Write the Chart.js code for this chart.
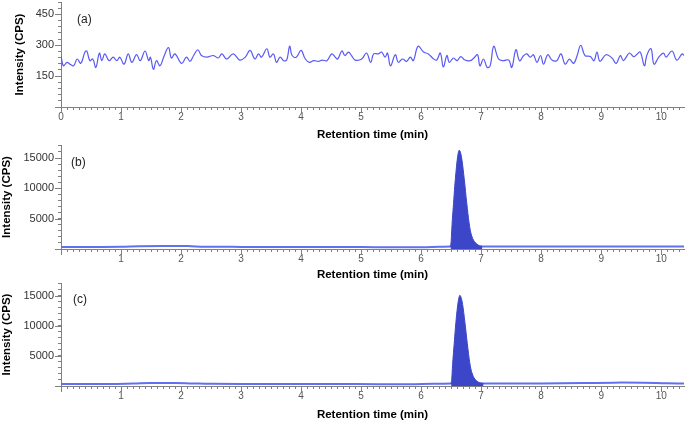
<!DOCTYPE html>
<html>
<head>
<meta charset="utf-8">
<script src="https://cdn.jsdelivr.net/npm/chart.js@4.4.1/dist/chart.umd.min.js"></script>
<style>
  body { margin: 0; background: #fff; }
  canvas { position: absolute; left: 0; }
</style>
</head>
<body>
<canvas id="chA" width="685" height="142" style="top:0px"></canvas>
<canvas id="chB" width="685" height="139" style="top:143px"></canvas>
<canvas id="chC" width="685" height="141" style="top:281px"></canvas>
<script>
// (a) blank noise trace
var timesA = [0.00, 0.04, 0.10, 0.15, 0.21, 0.27, 0.33, 0.40, 0.43, 0.48, 0.53, 0.58, 0.64, 0.68, 0.73, 0.80, 0.87, 0.93, 0.98,
  1.05, 1.12, 1.18, 1.26, 1.32, 1.40, 1.46, 1.49, 1.54, 1.59, 1.65, 1.71, 1.79, 1.84, 1.90, 2.01, 2.09, 2.15, 2.21, 2.28,
  2.34, 2.43, 2.54, 2.62, 2.68, 2.76, 2.87, 2.98, 3.07, 3.15, 3.23, 3.29, 3.34, 3.43, 3.48, 3.54, 3.59, 3.65, 3.71, 3.76,
  3.81, 3.85, 3.92, 4.00, 4.07, 4.14, 4.21, 4.29, 4.35, 4.43, 4.51, 4.57, 4.61, 4.68, 4.73, 4.79, 4.84, 4.90, 5.01, 5.09,
  5.16, 5.21, 5.29, 5.34, 5.40, 5.44, 5.49, 5.57, 5.62, 5.69, 5.76, 5.82, 5.87, 5.95, 6.04, 6.12, 6.21, 6.26, 6.32, 6.37,
  6.43, 6.47, 6.54, 6.60, 6.66, 6.73, 6.82, 6.88, 6.94, 6.98, 7.04, 7.10, 7.15, 7.21, 7.29, 7.37, 7.46, 7.51, 7.58, 7.64,
  7.71, 7.76, 7.82, 7.87, 7.93, 7.99, 8.04, 8.11, 8.18, 8.26, 8.33, 8.40, 8.47, 8.54, 8.60, 8.66, 8.73, 8.82, 8.88, 8.93,
  8.98, 9.08, 9.18, 9.25, 9.32, 9.37, 9.47, 9.54, 9.59, 9.65, 9.72, 9.76, 9.83, 9.88, 9.96, 10.04, 10.08, 10.18, 10.26,
  10.35, 10.38];
var intensA = [250, 200, 217, 208, 200, 233, 212, 267, 272, 225, 233, 192, 262, 225, 258, 225, 242, 225, 242,
  208, 258, 217, 254, 225, 272, 225, 242, 183, 225, 200, 242, 288, 238, 258, 212, 242, 222, 250, 278,
  250, 242, 250, 238, 258, 233, 258, 228, 242, 275, 233, 258, 242, 283, 242, 258, 217, 242, 225, 228,
  295, 250, 242, 275, 233, 217, 225, 222, 228, 225, 258, 242, 233, 272, 250, 267, 250, 228, 233, 262,
  217, 258, 258, 267, 242, 262, 200, 254, 217, 233, 222, 242, 225, 295, 267, 258, 233, 228, 262, 195,
  250, 217, 238, 225, 245, 228, 225, 238, 254, 200, 233, 192, 200, 295, 233, 225, 228, 192, 278, 225,
  250, 258, 242, 254, 217, 250, 208, 254, 228, 225, 258, 208, 233, 212, 250, 300, 250, 245, 225, 267,
  222, 254, 238, 212, 250, 225, 262, 245, 254, 267, 200, 250, 283, 208, 242, 262, 242, 272, 228,
  258, 250];

// (b) baseline and peak
var timesB = [0, 0.6, 1.0, 1.3, 1.7, 2.1, 2.4, 3.0, 4.0, 5.0, 5.5, 6.0, 6.3, 6.5, 6.7, 7.05, 8, 9, 10, 10.38];
var baseB = [330, 330, 360, 460, 500, 480, 380, 350, 350, 330, 280, 290, 360, 400, 400, 430, 420, 420, 420, 420];
var peakTimesB = [6.49, 6.50, 6.51, 6.52, 6.54, 6.56, 6.58, 6.60, 6.62, 6.635, 6.65, 6.67, 6.69, 6.71, 6.73, 6.75,
  6.77, 6.79, 6.81, 6.83, 6.86, 6.89, 6.93, 6.97, 7.02];
var peakB = [400, 1200, 3000, 4800, 7500, 10300, 12600, 14600, 15900, 16300, 16100, 15300, 14000, 12300, 10500, 8500,
  6700, 5000, 3600, 2600, 1700, 1200, 800, 550, 420];

// (c) baseline and peak
var timesC = [0, 0.8, 1.2, 1.5, 1.9, 2.2, 2.5, 3.5, 4.5, 5.3, 5.8, 6.2, 6.5, 6.7, 7.1, 8.0, 8.7, 9.2, 9.7, 10.1, 10.38];
var baseC = [330, 340, 420, 500, 500, 420, 360, 350, 340, 300, 290, 380, 400, 420, 420, 420, 480, 560, 540, 440, 420];
var peakTimesC = [6.50, 6.51, 6.52, 6.53, 6.55, 6.57, 6.59, 6.61, 6.63, 6.645, 6.66, 6.68, 6.70, 6.72, 6.74, 6.76,
  6.78, 6.80, 6.82, 6.84, 6.87, 6.90, 6.94, 6.98, 7.04];
var peakC = [400, 1100, 2800, 4400, 6900, 9500, 11700, 13500, 14700, 15100, 14900, 14200, 13000, 11400, 9700, 7900,
  6200, 4600, 3300, 2400, 1600, 1100, 750, 520, 420];

var axisGrey = "#808080";
var fontFam = "'Liberation Sans', Arial, sans-serif";

function pts(xs, ys) {
  return xs.map(function (x, i) { return { x: x, y: ys[i] }; });
}

// tick positions: minor every step, labelled every major
function tickList(max, step) {
  var out = [];
  for (var i = 0; i * step <= max + 1e-9; i++) out.push({ value: Math.round(i * step * 1000) / 1000 });
  return out;
}

var extras = {
  id: "extras",
  afterDraw: function (chart, args, opts) {
    var ctx = chart.ctx, a = chart.chartArea;
    var xs = chart.scales.x, ys = chart.scales.y;
    ctx.save();
    ctx.strokeStyle = axisGrey;
    ctx.lineWidth = 1;
    ctx.beginPath();
    xs.ticks.forEach(function (t) {
      if (Math.abs(t.value - Math.round(t.value)) < 1e-6) {
        var px = Math.round(xs.getPixelForValue(t.value)) + 0.5;
        ctx.moveTo(px, a.bottom);
        ctx.lineTo(px, a.bottom + 6);
      }
    });
    ys.ticks.forEach(function (t) {
      if (Math.round(t.value) % opts.yMajor === 0) {
        var py = Math.round(ys.getPixelForValue(t.value)) + 0.5;
        ctx.moveTo(a.left, py);
        ctx.lineTo(a.left - 6, py);
      }
    });
    ctx.stroke();
    ctx.fillStyle = "#222";
    ctx.font = "12px " + fontFam;
    ctx.textBaseline = "middle";
    ctx.fillText(opts.tag, a.left + opts.tagX, a.top + opts.tagY);
    ctx.restore();
  }
};

function panel(id, cfg) {
  new Chart(id, {
    type: "line",
    data: { datasets: cfg.datasets },
    options: {
      responsive: false,
      animation: false,
      events: [],
      layout: { padding: { top: cfg.padTop, right: 1, left: 0, bottom: 0 } },
      plugins: {
        legend: { display: false },
        tooltip: { enabled: false },
        extras: { yMajor: cfg.yMajor, tag: cfg.tag, tagX: cfg.tagX, tagY: cfg.tagY }
      },
      scales: {
        x: {
          type: "linear",
          min: 0,
          max: 10.38,
          afterBuildTicks: function (s) { s.ticks = tickList(10.38, 0.1); },
          afterFit: function (s) {
            s.height = cfg.xHeight;
            s.paddingLeft = 0;
            s.paddingRight = 0;
          },
          border: { display: true, color: axisGrey },
          grid: { drawOnChartArea: false, tickLength: 3, color: axisGrey },
          ticks: {
            autoSkip: false,
            maxRotation: 0,
            padding: 1,
            color: "#555",
            font: { family: fontFam, size: 10 },
            callback: function (v) {
              var r = Math.round(v);
              if (Math.abs(v - r) > 1e-6) return "";
              if (r === 0 && !cfg.showZero) return "";
              return String(r);
            }
          },
          title: {
            display: true,
            text: "Retention time (min)",
            color: "#000",
            font: { family: fontFam, size: 11.5, weight: "bold" },
            padding: { top: 0, bottom: 0 }
          }
        },
        y: {
          min: 0,
          max: cfg.yMax,
          afterBuildTicks: function (s) { s.ticks = tickList(cfg.yMax, cfg.yStep); },
          afterFit: function (s) {
            s.width = 61;
            s.paddingTop = 0;
            s.paddingBottom = 0;
          },
          border: { display: true, color: axisGrey },
          grid: { drawOnChartArea: false, tickLength: 3, color: axisGrey },
          ticks: {
            autoSkip: false,
            padding: 4,
            color: "#333",
            font: { family: fontFam, size: 11 },
            callback: function (v) {
              return (v > 0 && Math.round(v) % cfg.yMajor === 0) ? String(Math.round(v)) : "";
            }
          },
          title: {
            display: true,
            text: "Intensity (CPS)",
            color: "#000",
            font: { family: fontFam, size: 11.5, weight: "bold" },
            padding: { top: cfg.yTitlePad, bottom: 0 }
          }
        }
      }
    },
    plugins: [extras]
  });
}

panel("chA", {
  padTop: 2, xHeight: 35, yMax: 510, yStep: 30, yMajor: 150, yTitlePad: 13, showZero: true,
  tag: "(a)", tagX: 16, tagY: 18,
  datasets: [{
    data: pts(timesA, intensA),
    borderColor: "#5a5af5",
    borderWidth: 1.2,
    pointRadius: 0,
    tension: 0.4,
    fill: false
  }]
});

panel("chB", {
  padTop: 2, xHeight: 33, yMax: 17150, yStep: 1000, yMajor: 5000, yTitlePad: 0, showZero: false,
  tag: "(b)", tagX: 10, tagY: 18,
  datasets: [{
    data: pts(peakTimesB, peakB),
    borderColor: "#3b46c8",
    backgroundColor: "#3b46c8",
    borderWidth: 1,
    pointRadius: 0,
    tension: 0.3,
    fill: "origin",
    order: 0
  }, {
    data: pts(timesB, baseB),
    borderColor: "#6070f0",
    borderWidth: 2,
    pointRadius: 0,
    tension: 0.4,
    fill: false,
    order: 1
  }]
});

panel("chC", {
  padTop: 2, xHeight: 36, yMax: 17150, yStep: 1000, yMajor: 5000, yTitlePad: 0, showZero: false,
  tag: "(c)", tagX: 12, tagY: 17,
  datasets: [{
    data: pts(peakTimesC, peakC),
    borderColor: "#3b46c8",
    backgroundColor: "#3b46c8",
    borderWidth: 1,
    pointRadius: 0,
    tension: 0.3,
    fill: "origin",
    order: 0
  }, {
    data: pts(timesC, baseC),
    borderColor: "#6070f0",
    borderWidth: 2,
    pointRadius: 0,
    tension: 0.4,
    fill: false,
    order: 1
  }]
});
</script>
</body>
</html>
